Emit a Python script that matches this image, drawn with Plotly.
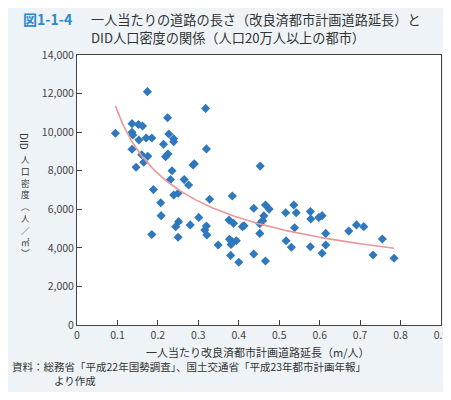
import numpy as np
import plotly.graph_objects as go

# road length per person (m/person)
road_len = [0.095, 0.136, 0.152, 0.162, 0.174, 0.136, 0.138, 0.153, 0.171, 0.185,
            0.224, 0.227, 0.239, 0.239, 0.214, 0.136, 0.160, 0.175, 0.219, 0.225,
            0.146, 0.165, 0.235, 0.287, 0.290, 0.318, 0.320, 0.231, 0.265, 0.276,
            0.189, 0.207, 0.239, 0.250, 0.453, 0.384, 0.328, 0.208, 0.251, 0.244,
            0.280, 0.301, 0.320, 0.316, 0.321, 0.185, 0.250, 0.349, 0.376, 0.387,
            0.409, 0.413, 0.377, 0.384, 0.394, 0.381, 0.380, 0.400, 0.437, 0.437,
            0.466, 0.475, 0.462, 0.452, 0.459, 0.452, 0.466, 0.516, 0.536, 0.542,
            0.538, 0.517, 0.530, 0.577, 0.578, 0.577, 0.598, 0.606, 0.615, 0.615,
            0.606, 0.672, 0.691, 0.709, 0.732, 0.755, 0.784]
# DID population density
density = [9940, 10440, 10400, 10320, 12100, 9990, 9850, 9590, 9700, 9700,
           10750, 9900, 9660, 9500, 9370, 9110, 8830, 8750, 8730, 8870,
           8180, 8440, 8000, 8300, 8360, 11230, 9130, 7540, 7540, 7260,
           7020, 6340, 6740, 6830, 8240, 6690, 6520, 5670, 5360, 5100,
           5190, 5580, 5130, 4930, 4670, 4690, 4550, 4150, 5440, 5270,
           5100, 5150, 4440, 4320, 4370, 4180, 3610, 3250, 3680, 6050,
           6220, 6010, 5660, 5250, 5410, 4750, 3320, 5820, 6220, 5820,
           5040, 4370, 4030, 5880, 5500, 4060, 5580, 5670, 4750, 4150,
           3720, 4870, 5190, 5100, 3630, 4460, 3460]

x_ticks = [0, 0.1, 0.2, 0.3, 0.4, 0.5, 0.6, 0.7, 0.8, 0.9]
y_ticks = [0, 2000, 4000, 6000, 8000, 10000, 12000, 14000]

title_fig = "図1-1-4"
title_l1 = "一人当たりの道路の長さ（改良済都市計画道路延長）と"
title_l2 = "DID人口密度の関係（人口20万人以上の都市）"
x_title = "一人当たり改良済都市計画道路延長（m/人）"
y_title_top = "DID"
y_title_chars = ["人", "口", "密", "度", "︵", "人", "／", "㎡", "︶"]
source_l1 = "資料：総務省「平成22年国勢調査」、国土交通省「平成23年都市計画年報」"
source_l2 = "より作成"

# power trendline fitted from data (log-log least squares)
xa = np.array(road_len)
ya = np.array(density)
b, ln_a = np.polyfit(np.log(xa), np.log(ya), 1)
xt = np.linspace(xa.min(), xa.max(), 200)
yt = np.exp(ln_a) * xt ** b

FONT = "Noto Sans CJK JP"
OFF = 8  # page body margin offset
W, H = 451 - 2 * OFF + 6, 400 - 2 * OFF
L, T = 77 - OFF, 55 - OFF
PR, PB = 441 - OFF, 325 - OFF
R, B = W - PR, H - PB
PW, PH = PR - L, PB - T


def px(xs):
    return (xs - OFF - L) / PW


def py(ys):
    return (PB - (ys - OFF)) / PH


fig = go.Figure()
fig.add_trace(go.Scatter(x=road_len, y=density, mode="markers",
                         marker=dict(symbol="diamond", size=7, color="#2f78bd"),
                         showlegend=False, hoverinfo="skip"))
fig.add_trace(go.Scatter(x=xt, y=yt, mode="lines",
                         line=dict(color="#e89a98", width=1.6),
                         showlegend=False, hoverinfo="skip"))


def txt(text, xs, ys, size, color="#333333", xanchor="left", **kw):
    return dict(text=text, x=px(xs), y=py(ys), xref="paper", yref="paper",
                xanchor=xanchor, yanchor="middle", showarrow=False,
                font=dict(family=FONT, size=size, color=color), **kw)


ann = [
    txt("<b>" + title_fig + "</b>", 21, 19, 14, color="#2b8ad0"),
    txt(title_l1, 89, 19, 13.2),
    txt(title_l2, 89, 37, 13.2),
    txt(x_title, 258, 352, 11, xanchor="center"),
    txt(source_l1, 10, 366, 10.5),
    txt(source_l2, 52, 380, 10.5),
    txt(y_title_top, 25, 141, 10, xanchor="center", textangle=90),
]
for i, ch in enumerate(y_title_chars):
    ann.append(txt(ch, 25, 159 + i * 11.8, 8.6, xanchor="center"))

fig.update_layout(
    width=W, height=H,
    margin=dict(l=L, r=R, t=T, b=B, autoexpand=False),
    paper_bgcolor="#eef3f8",
    plot_bgcolor="#ffffff",
    font=dict(family=FONT, size=10.5, color="#333333"),
    annotations=ann,
)
fig.update_xaxes(range=[0, 0.9], tickvals=x_ticks, ticktext=[f"{v:g}" for v in x_ticks],
                 ticks="inside", ticklen=5, tickcolor="#444", showline=True, mirror=True,
                 linecolor="#444", linewidth=1, showgrid=False, zeroline=False,
                 automargin=False, ticklabeloverflow="allow",
                 tickfont=dict(size=10.5, color="#444"))
fig.update_yaxes(range=[0, 14000], tickvals=y_ticks, ticktext=[f"{v:,}" for v in y_ticks],
                 ticks="inside", ticklen=5, tickcolor="#444", showline=True, mirror=True,
                 linecolor="#444", linewidth=1, showgrid=False, zeroline=False,
                 automargin=False, tickfont=dict(size=10.5, color="#444"))

fig.write_html("out.html")
